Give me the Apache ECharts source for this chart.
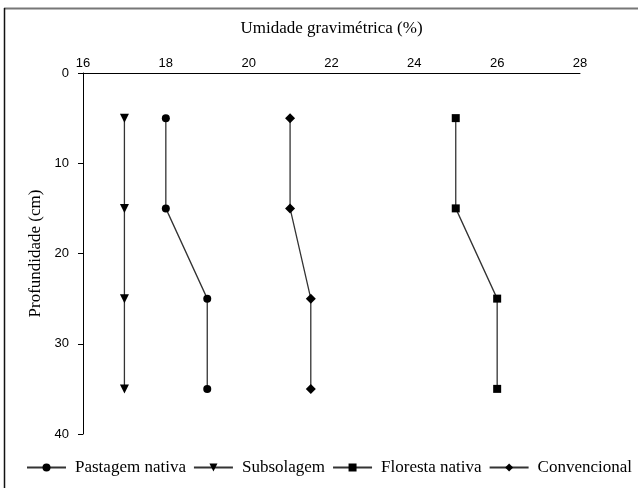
<!DOCTYPE html>
<html><head><meta charset="utf-8">
<script src="https://cdn.jsdelivr.net/npm/echarts@6/dist/echarts.min.js"></script>
<style>html,body{margin:0;padding:0;background:#fff}#c{width:638px;height:488px}</style>
</head><body><div id="c"></div>
<script>
var depths = [5, 15, 25, 35];
var pastagem = [18, 18, 19, 19];
var subsolagem = [17, 17, 17, 17];
var floresta = [25, 25, 26, 26];
var convencional = [21, 21, 21.5, 21.5];
var names = ['Pastagem nativa', 'Subsolagem', 'Floresta nativa', 'Convencional'];
var xTitle = 'Umidade gravimétrica (%)';
var yTitle = 'Profundidade (cm)';

function pairs(xs){ return xs.map(function(v,i){ return [v, depths[i]]; }); }
var chart = echarts.init(document.getElementById('c'));
var lineStyle = {color:'#333', width:1.3};
function ser(name, xs, symbol, size, rot){
  return {name:name, type:'line', data:pairs(xs), symbol:symbol, symbolSize:size, symbolRotate:rot||0,
    lineStyle:lineStyle, itemStyle:{color:'#000'}, emphasis:{disabled:true}, animation:false, z:3};
}
chart.setOption({
  animation:false,
  grid:{left:83, top:73, right:58, bottom:54},
  xAxis:{type:'value', position:'top', min:16, max:28, interval:2,
    name:xTitle, nameLocation:'middle', nameGap:36,
    nameTextStyle:{fontFamily:'Liberation Serif', fontSize:17, color:'#000'},
    axisLine:{show:true, lineStyle:{color:'#000', width:1}},
    axisTick:{show:false}, splitLine:{show:false},
    axisLabel:{fontFamily:'Liberation Sans', fontSize:13, color:'#000', margin:3}},
  yAxis:{type:'value', inverse:true, min:0, max:40, interval:10,
    name:yTitle, nameLocation:'middle', nameGap:37,
    nameTextStyle:{fontFamily:'Liberation Serif', fontSize:17, color:'#000'},
    axisLine:{show:true, lineStyle:{color:'#000', width:1}},
    axisTick:{show:true, length:5, lineStyle:{color:'#000'}}, splitLine:{show:false},
    axisLabel:{fontFamily:'Liberation Sans', fontSize:13, color:'#000', margin:14}},
  legend:{bottom:12, left:26, width:612, padding:0, itemWidth:39, itemHeight:10, itemGap:7,
    textStyle:{fontFamily:'Liberation Serif', fontSize:17, color:'#000', padding:[0,0,0,4]},
    data:names},
  series:[
    ser(names[0], pastagem, 'circle', 8),
    ser(names[1], subsolagem, 'triangle', 9, 180),
    ser(names[2], floresta, 'rect', 8),
    ser(names[3], convencional, 'diamond', 10)
  ],
  graphic:[
    {type:'line', shape:{x1:4, y1:8.5, x2:638, y2:8.5}, style:{stroke:'#777', lineWidth:2}, silent:true},
    {type:'line', shape:{x1:4.5, y1:8, x2:4.5, y2:488}, style:{stroke:'#111', lineWidth:1.5}, silent:true}
  ]
});
</script></body></html>
